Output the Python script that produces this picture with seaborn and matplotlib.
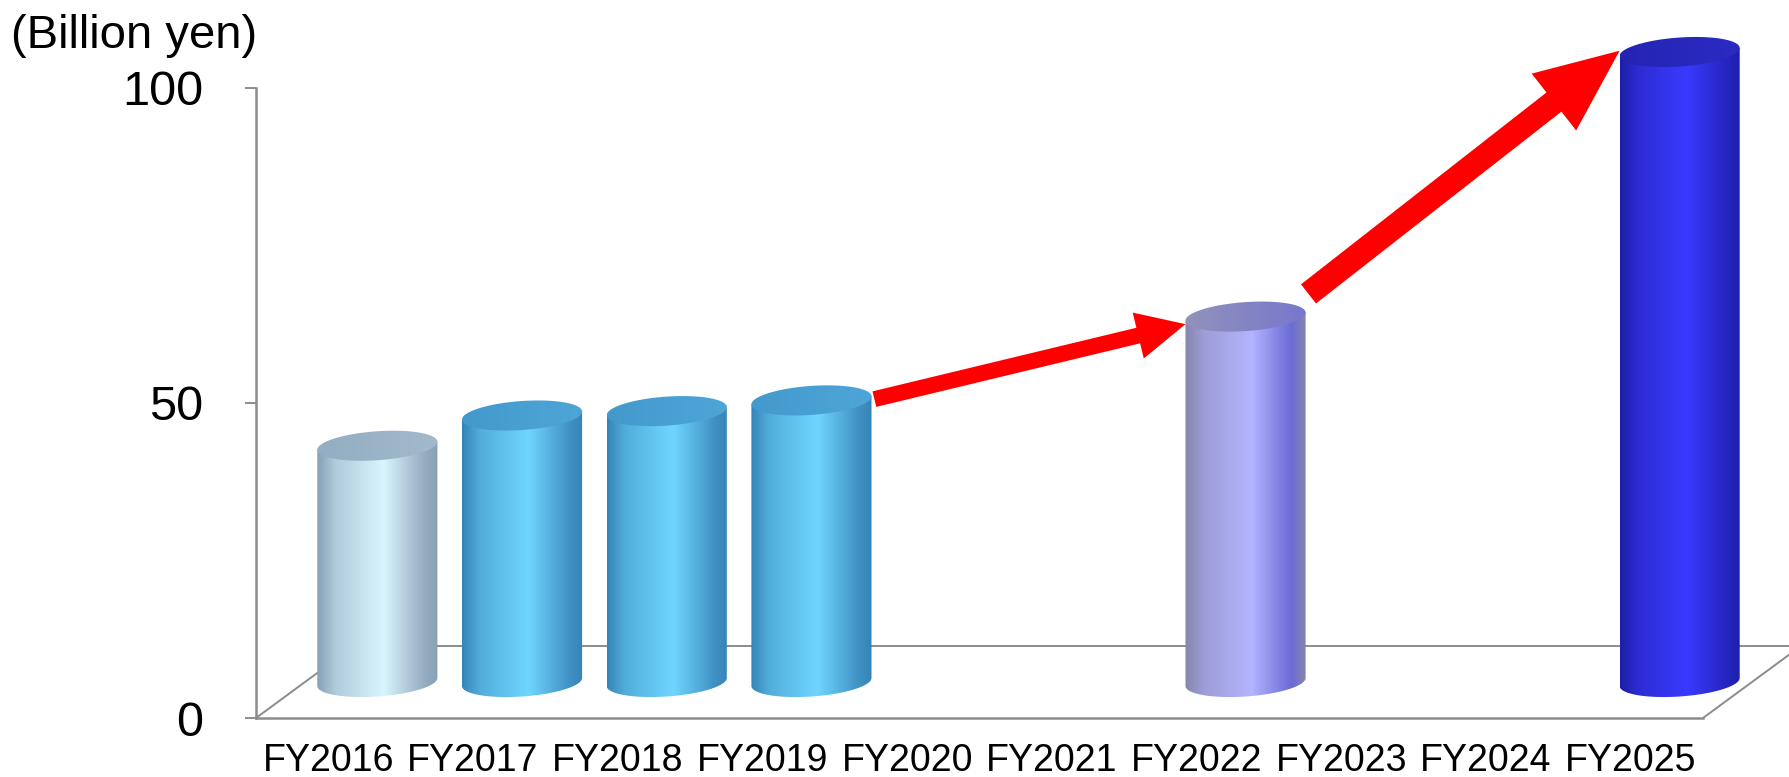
import numpy as np
import pandas as pd
import matplotlib
matplotlib.use("Agg")
import matplotlib.pyplot as plt
import seaborn as sns
from matplotlib.colors import LinearSegmentedColormap
from matplotlib.patches import PathPatch, FancyArrowPatch, ArrowStyle
from matplotlib.path import Path


YEARS = ["FY2016", "FY2017", "FY2018", "FY2019", "FY2020",
         "FY2021", "FY2022", "FY2023", "FY2024", "FY2025"]
BAR_YEARS = ["FY2016", "FY2017", "FY2018", "FY2019", "FY2022", "FY2025"]
BAR_VALUES = [37.5, 42.3, 43.0, 44.7, 58.0, 100.0]
Y_TICKS = [0, 50, 100]
UNIT_LABEL = "(Billion yen)"
ARROW_PAIRS = [("FY2019", "FY2022"), ("FY2022", "FY2025")]

# left edge, highlight, right edge, cap left, cap right
SHADES = {
    "FY2016": ("#86a0b5", "#d9f6ff", "#97aec2", "#93adc2", "#a2bacb"),
    "FY2017": ("#3584b8", "#6fd6ff", "#4293c6", "#4399cc", "#4ea6d8"),
    "FY2018": ("#3584b8", "#6fd6ff", "#4293c6", "#4399cc", "#4ea6d8"),
    "FY2019": ("#3584b8", "#6fd6ff", "#4293c6", "#4399cc", "#4ea6d8"),
    "FY2022": ("#8585ad", "#b4b4ff", "#6b6bd6", "#9292bc", "#7777cc"),
    "FY2025": ("#1e1eaa", "#3a3aff", "#2525c2", "#2424b4", "#2b2bc4"),
}
# (tail dy, tip dy, head length pt, head width pt, tail width pt)
ARROW_STYLE = [(0.2, -1.2, 35, 34, 11.5), (3.6, 0.2, 60, 52, 17.5)]

GRAY = "#8c8c8c"
W, H = 1789, 777
X0, X1 = 256, 1703      # front floor edge in px
Y0, Y100 = 718, 88      # value 0 / 100 on the front axis
DEPTH = (49, 36)        # front -> middle of the floor, px
BAR_W = 0.83
PAD_V = 10              # extra value room around the cylinder axes

sns.set_theme(style="white")
plt.rcParams["font.family"] = ["Liberation Sans", "DejaVu Sans"]
plt.rcParams["text.color"] = "black"

fig = plt.figure(figsize=(W / 100, H / 100), dpi=100)
px_cat = (X1 - X0) / len(YEARS)
px_unit = (Y0 - Y100) / 100
DX, DY = DEPTH[0] / px_cat, DEPTH[1] / px_unit

box_w, box_h = (X1 - X0) / W, (Y0 - Y100) / H
ax = fig.add_axes([X0 / W, (H - Y0) / H, box_w, box_h])
ax_bar = fig.add_axes([(X0 + DEPTH[0]) / W,
                       (H - Y0 + DEPTH[1] - PAD_V * px_unit) / H,
                       box_w, (Y0 - Y100 + 2 * PAD_V * px_unit) / H])

# front frame: axis lines, floor
ax.set_xlim(-0.5, len(YEARS) - 0.5)
ax.set_ylim(0, 100)
ax.set_facecolor("none")
for side in ["top", "right"]:
    ax.spines[side].set_visible(False)
for side in ["left", "bottom"]:
    ax.spines[side].set_color(GRAY)
    ax.spines[side].set_linewidth(1.8)
x_lo, x_hi = -0.5, len(YEARS) - 0.5
floor_kw = dict(color=GRAY, lw=1.4, clip_on=False, solid_capstyle="butt")
ax.plot([x_lo, x_lo + 2 * DX], [0, 2 * DY], **floor_kw)
ax.plot([x_hi, x_hi + 2 * DX], [0, 2 * DY], **floor_kw)
ax.plot([x_lo + 2 * DX, x_hi + 2 * DX], [2 * DY, 2 * DY], **floor_kw)

ax.set_xticks(range(len(YEARS)))
ax.set_xticklabels(YEARS, fontsize=27)
ax.set_xticks(np.arange(len(YEARS) + 1) - 0.5, minor=True)
ax.tick_params(axis="x", which="major", length=0, pad=18, labelcolor="black")
ax.tick_params(axis="x", which="minor", length=8.5, width=1.4, color=GRAY)
ax.set_yticks(Y_TICKS)
ax.set_yticklabels([str(t) for t in Y_TICKS], fontsize=35)
ax.tick_params(axis="y", length=8, width=1.4, color=GRAY, pad=30, left=True,
               labelcolor="black")
ax.set_xlabel("")
ax.set_ylabel("")

fig.text(11 / W, 1 - 36 / H, UNIT_LABEL, fontsize=34, ha="left", va="center",
         color="black")

# cylinders, sitting in the middle of the floor
df = pd.DataFrame({"year": BAR_YEARS, "value": BAR_VALUES})
sns.barplot(data=df, x="year", y="value", order=YEARS, hue="year",
            palette={y: SHADES[y][1] for y in BAR_YEARS}, saturation=1,
            width=BAR_W, legend=False, ax=ax_bar)
ax_bar.set_xlim(-0.5, len(YEARS) - 0.5)
ax_bar.set_ylim(-PAD_V, 100 + PAD_V)

ell_b = 14.5 / px_unit  # half height of the cap ellipse
ell_s = 4 / px_unit     # perspective tilt of the cap


def ellipse_pts(cx, cy, a, t):
    return np.column_stack([cx + a * np.cos(t),
                            cy + ell_b * np.sin(t) + ell_s * np.cos(t)])


def gradient(poly, cmap, x0, x1, y0, y1, z):
    clip = PathPatch(Path(poly), transform=ax_bar.transData,
                     facecolor="none", edgecolor="none")
    ax_bar.add_patch(clip)
    img = ax_bar.imshow(np.linspace(0, 1, 256)[None, :], cmap=cmap, aspect="auto",
                        extent=[x0, x1, y0, y1], origin="lower",
                        interpolation="bicubic", zorder=z)
    img.set_clip_path(clip)


def cylinder(patch, year):
    x0, w, h = patch.get_x(), patch.get_width(), patch.get_height()
    cx, a = x0 + w / 2, w / 2
    left, light, right, cap_l, cap_r = SHADES[year]
    mid = tuple((np.array(matplotlib.colors.to_rgb(left)) +
                 np.array(matplotlib.colors.to_rgb(light))) / 2)
    body_cmap = LinearSegmentedColormap.from_list(
        year, [(0, left), (0.15, mid), (0.55, light), (0.88, right), (1, left)])
    cap_cmap = LinearSegmentedColormap.from_list(year + "cap", [cap_l, cap_r])

    bottom = ellipse_pts(cx, 0, a, np.linspace(np.pi, 2 * np.pi, 60))
    body = np.vstack([[x0, h - ell_s], bottom, [x0 + w, h + ell_s], [x0, h - ell_s]])
    gradient(body, body_cmap, x0, x0 + w, -ell_b - ell_s, h + ell_s + ell_b, 2)

    cap = ellipse_pts(cx, h, a, np.linspace(0, 2 * np.pi, 120))
    gradient(cap, cap_cmap, x0, x0 + w, h - ell_b - ell_s, h + ell_b + ell_s, 3)
    patch.set_visible(False)


for patch in list(ax_bar.patches):
    h = patch.get_height()
    if not np.isfinite(h) or h == 0:
        continue
    idx = int(round(patch.get_x() + patch.get_width() / 2))
    cylinder(patch, YEARS[idx])

# red growth arrows between the cylinder tops
values = dict(zip(BAR_YEARS, BAR_VALUES))
for (a_year, b_year), (dy0, dy1, hl, hw, tw) in zip(ARROW_PAIRS, ARROW_STYLE):
    ia, ib = YEARS.index(a_year), YEARS.index(b_year)
    start = (ia + BAR_W / 2 + 0.02, values[a_year] + dy0)
    end = (ib - BAR_W / 2, values[b_year] + dy1)
    arrow = FancyArrowPatch(start, end, arrowstyle=ArrowStyle("simple", head_length=hl,
                                                               head_width=hw, tail_width=tw),
                            mutation_scale=1, shrinkA=0, shrinkB=0, color="#ff0000",
                            lw=0, zorder=5, clip_on=False)
    ax_bar.add_patch(arrow)

ax_bar.set_xlim(-0.5, len(YEARS) - 0.5)
ax_bar.set_ylim(-PAD_V, 100 + PAD_V)
ax_bar.set_facecolor("none")
ax_bar.axis("off")

fig.savefig("out.png", dpi=100, facecolor="white")
